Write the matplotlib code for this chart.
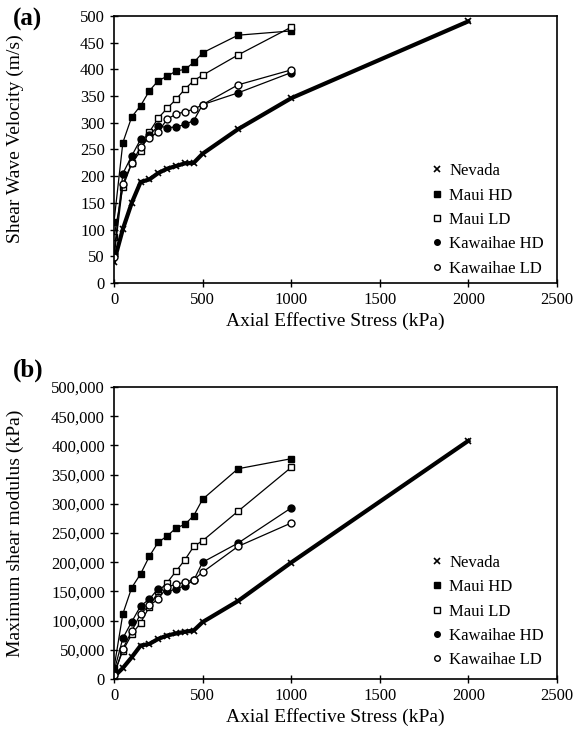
import numpy as np
from matplotlib import pyplot as plt
from matplotlib.ticker import FuncFormatter

plt.rcParams['font.family'] = ['Liberation Serif', 'DejaVu Serif']

# axial effective stress (kPa)
stress = [0, 50, 100, 150, 200, 250, 300, 350, 400, 450, 500, 700, 1000]
stress_nev = [0, 50, 100, 150, 200, 250, 300, 350, 400, 450, 500, 700, 1000, 2000]

# (a) shear wave velocity (m/s)
vs_nevada = [40, 101, 150, 189, 194, 206, 214, 219, 224, 225, 242, 288, 346, 490]
vs_maui_hd = [115, 263, 311, 332, 360, 379, 387, 397, 400, 413, 431, 464, 472]
vs_maui_ld = [86, 180, 224, 247, 283, 309, 327, 344, 363, 379, 389, 427, 479]
vs_kaw_hd = [55, 205, 238, 269, 277, 294, 291, 292, 297, 304, 334, 356, 394]
vs_kaw_ld = [48, 186, 224, 255, 272, 283, 307, 316, 321, 325, 334, 371, 399]

# (b) maximum shear modulus (kPa)
g_nevada = [4000, 18900, 37300, 57300, 60200, 68800, 74500, 78000, 80900, 83100, 97500, 133600, 199500, 408000]
g_maui_hd = [19000, 111800, 156500, 180000, 210400, 234500, 244800, 258600, 264900, 279800, 307900, 360100, 377300]
g_maui_ld = [8600, 48700, 76300, 96300, 124000, 150000, 165100, 184600, 204100, 227100, 236800, 287300, 362400]
g_kaw_hd = [13000, 70000, 98000, 125000, 137000, 155000, 150000, 154000, 160000, 169000, 200000, 232800, 293000]
g_kaw_ld = [7000, 52000, 82000, 112000, 126000, 137000, 158000, 162000, 166000, 170000, 183000, 227100, 267200]

series_names = ['Nevada', 'Maui HD', 'Maui LD', 'Kawaihae HD', 'Kawaihae LD']

fig = plt.figure(figsize=(5.82, 7.36), dpi=100)
ax_a = fig.add_axes([0.1959, 0.6155, 0.761, 0.3628])
ax_b = fig.add_axes([0.1959, 0.0774, 0.761, 0.3967])


def draw(ax, nev, mhd, mld, khd, kld, leg_y):
    ax.plot(stress_nev, nev, color='black', lw=3, marker='x', ms=5, mew=1.2, label=series_names[0])
    ax.plot(stress, mhd, color='black', lw=0.9, marker='s', ms=5, mfc='black', label=series_names[1])
    ax.plot(stress, mld, color='black', lw=0.9, marker='s', ms=5, mfc='white', mew=1, label=series_names[2])
    ax.plot(stress, khd, color='black', lw=0.9, marker='o', ms=5, mfc='black', label=series_names[3])
    ax.plot(stress, kld, color='black', lw=0.9, marker='o', ms=5, mfc='white', mew=1, label=series_names[4])
    ax.set_xlim(0, 2500)
    ax.set_xticks(np.arange(0, 2501, 500))
    ax.tick_params(direction='inout', length=6, width=1, labelsize=12, top=False, right=False)
    for s in ax.spines.values():
        s.set_linewidth(1.2)
    ax.set_xlabel('Axial Effective Stress (kPa)', fontsize=14, labelpad=3)
    leg = ax.legend(loc='center', bbox_to_anchor=(0.845, leg_y), frameon=False, fontsize=12,
                    handlelength=0.5, handletextpad=0.5, labelspacing=0.5, borderpad=0)
    for h in leg.legend_handles:
        h.set_linestyle('None')
        h.set_markersize(4)


draw(ax_a, vs_nevada, vs_maui_hd, vs_maui_ld, vs_kaw_hd, vs_kaw_ld, 0.236)
ax_a.set_ylim(0, 500)
ax_a.set_yticks(np.arange(0, 501, 50))
ax_a.set_ylabel('Shear Wave Velocity (m/s)', fontsize=14)
ax_a.yaxis.set_label_coords(-0.203, 0.54)

draw(ax_b, g_nevada, g_maui_hd, g_maui_ld, g_kaw_hd, g_kaw_ld, 0.231)
ax_b.set_ylim(0, 500000)
ax_b.set_yticks(np.arange(0, 500001, 50000))
ax_b.yaxis.set_major_formatter(FuncFormatter(lambda v, p: f'{int(v):,}'))
ax_b.set_ylabel('Maximum shear modulus (kPa)', fontsize=14)
ax_b.yaxis.set_label_coords(-0.203, 0.5)

fig.text(0.048, 0.9735, '(a)', fontsize=18, fontweight='bold', ha='center', va='center')
fig.text(0.048, 0.497, '(b)', fontsize=18, fontweight='bold', ha='center', va='center')

fig.savefig('out.png', dpi=100)
